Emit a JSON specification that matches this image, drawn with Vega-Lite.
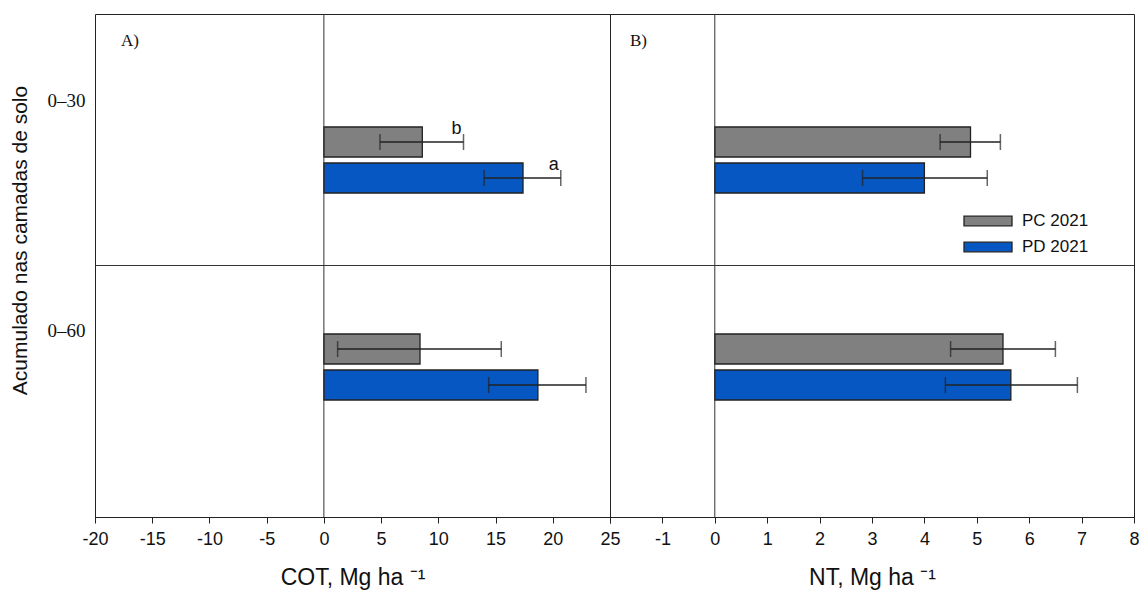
{
  "$schema": "https://vega.github.io/schema/vega-lite/v6.json",
  "autosize": {"type": "pad"},
  "padding": {"left": 8, "top": 13, "right": 0, "bottom": 0},
  "background": "white",
  "spacing": 0,
  "bounds": "flush",
  "config": {
    "view": {"stroke": "#222222", "strokeWidth": 1},
    "axis": {
      "labelFont": "Arial",
      "labelColor": "#111111",
      "titleFont": "Arial",
      "titleColor": "#111111",
      "titleFontWeight": "normal",
      "domainColor": "#222222",
      "tickColor": "#222222",
      "grid": false
    },
    "title": {"font": "Liberation Serif", "fontSize": 17, "fontWeight": "normal", "color": "#111111"}
  },
  "datasets": {
    "cot": [
      {"camada": "0–30", "sistema": "PC 2021", "media": 8.6, "lo": 4.9, "hi": 12.2, "letra": "b"},
      {"camada": "0–30", "sistema": "PD 2021", "media": 17.4, "lo": 14.0, "hi": 20.7, "letra": "a"},
      {"camada": "0–60", "sistema": "PC 2021", "media": 8.4, "lo": 1.2, "hi": 15.5, "letra": ""},
      {"camada": "0–60", "sistema": "PD 2021", "media": 18.7, "lo": 14.4, "hi": 22.9, "letra": ""}
    ],
    "nt": [
      {"camada": "0–30", "sistema": "PC 2021", "media": 4.88, "lo": 4.3, "hi": 5.45, "letra": ""},
      {"camada": "0–30", "sistema": "PD 2021", "media": 4.0, "lo": 2.82, "hi": 5.2, "letra": ""},
      {"camada": "0–60", "sistema": "PC 2021", "media": 5.5, "lo": 4.5, "hi": 6.5, "letra": ""},
      {"camada": "0–60", "sistema": "PD 2021", "media": 5.65, "lo": 4.4, "hi": 6.92, "letra": ""}
    ]
  },
  "resolve": {"legend": {"color": "independent"}},
  "hconcat": [
    {
      "width": 515,
      "height": 503,
      "title": {"text": "A)", "anchor": "start", "frame": "group", "dx": 26, "offset": -36, "baseline": "top"},
      "data": {"name": "cot"},
      "layer": [
        {
          "encoding": {
            "y": {
              "field": "camada", "type": "nominal",
              "scale": {"domain": ["0–30", "0–60"], "paddingInner": 0, "paddingOuter": 0.215},
              "axis": {
                "title": "Acumulado nas camadas de solo",
                "titleFontSize": 21,
                "titlePadding": 17,
                "titleY": 226,
                "labelFont": "Liberation Serif",
                "labelFontSize": 19,
                "labelAngle": 0,
                "labelPadding": 10,
                "labelOffset": {"condition": {"test": "datum.value === '0–30'", "value": -61}, "value": -38},
                "ticks": false,
                "domain": false
              }
            },
            "yOffset": {
              "field": "sistema", "type": "nominal",
              "scale": {"domain": ["PC 2021", "PD 2021"], "range": [68.5, 134.5], "paddingInner": 0.1667, "paddingOuter": 0}
            }
          },
          "layer": [
            {
              "mark": {"type": "bar", "stroke": "#222222", "strokeWidth": 1.3},
              "encoding": {
                "x": {
                  "field": "media", "type": "quantitative",
                  "scale": {"domain": [-20, 25], "nice": false, "zero": false},
                  "axis": {
                    "title": "COT, Mg ha  ⁻¹",
                    "titleFontSize": 23,
                    "titlePadding": 18,
                    "values": [-20, -15, -10, -5, 0, 5, 10, 15, 20, 25],
                    "labelExpr": "replace(datum.label, '−', '-')",
                    "labelFontSize": 18,
                    "labelPadding": 7,
                    "labelFlush": false,
                    "tickSize": 6
                  }
                },
                "x2": {"datum": 0},
                "color": {
                  "field": "sistema", "type": "nominal",
                  "scale": {"domain": ["PC 2021", "PD 2021"], "range": ["#808080", "#0657C1"]},
                  "legend": null
                }
              }
            },
            {
              "mark": {"type": "rule", "color": "#222222", "strokeWidth": 1.3},
              "encoding": {"x": {"field": "lo", "type": "quantitative"}, "x2": {"field": "hi"}}
            },
            {
              "mark": {"type": "tick", "color": "#222222", "thickness": 1.5, "size": 16},
              "encoding": {"x": {"field": "lo", "type": "quantitative"}}
            },
            {
              "mark": {"type": "tick", "color": "#222222", "thickness": 1.5, "size": 16},
              "encoding": {"x": {"field": "hi", "type": "quantitative"}}
            },
            {
              "transform": [{"filter": "datum.letra !== ''"}],
              "mark": {"type": "text", "font": "Arial", "fontSize": 18, "color": "#111111", "dx": -7, "dy": -13},
              "encoding": {"x": {"field": "hi", "type": "quantitative"}, "text": {"field": "letra"}}
            }
          ]
        },
        {
          "data": {"values": [{}]},
          "mark": {"type": "rule", "color": "#333333", "strokeWidth": 1},
          "encoding": {"x": {"datum": 0}}
        },
        {
          "data": {"values": [{}]},
          "mark": {"type": "rule", "color": "#333333", "strokeWidth": 1},
          "encoding": {"y": {"datum": "0–60", "bandPosition": 0}}
        }
      ]
    },
    {
      "width": 524,
      "height": 503,
      "title": {"text": "B)", "anchor": "start", "frame": "group", "dx": 20, "offset": -36, "baseline": "top"},
      "data": {"name": "nt"},
      "layer": [
        {
          "encoding": {
            "y": {
              "field": "camada", "type": "nominal",
              "scale": {"domain": ["0–30", "0–60"], "paddingInner": 0, "paddingOuter": 0.215},
              "axis": null
            },
            "yOffset": {
              "field": "sistema", "type": "nominal",
              "scale": {"domain": ["PC 2021", "PD 2021"], "range": [68.5, 134.5], "paddingInner": 0.1667, "paddingOuter": 0}
            }
          },
          "layer": [
            {
              "mark": {"type": "bar", "stroke": "#222222", "strokeWidth": 1.3},
              "encoding": {
                "x": {
                  "field": "media", "type": "quantitative",
                  "scale": {"domain": [-2, 8], "nice": false, "zero": false},
                  "axis": {
                    "title": "NT, Mg ha  ⁻¹",
                    "titleFontSize": 23,
                    "titlePadding": 18,
                    "values": [-2, -1, 0, 1, 2, 3, 4, 5, 6, 7, 8],
                    "labelExpr": "datum.value === -2 ? '' : replace(datum.label, '−', '-')",
                    "labelFontSize": 18,
                    "labelPadding": 7,
                    "labelFlush": false,
                    "tickSize": 6
                  }
                },
                "x2": {"datum": 0},
                "color": {
                  "field": "sistema", "type": "nominal",
                  "scale": {"domain": ["PC 2021", "PD 2021"], "range": ["#808080", "#0657C1"]},
                  "legend": {
                    "title": null,
                    "orient": "none",
                    "legendX": 367,
                    "legendY": 196,
                    "symbolType": "M-2.4,-0.48H2.4V0.48H-2.4Z",
                    "symbolSize": 400,
                    "symbolStrokeColor": "#222222",
                    "symbolStrokeWidth": 1.3,
                    "symbolOpacity": 1,
                    "labelFont": "Arial",
                    "labelFontSize": 17,
                    "labelColor": "#111111",
                    "labelOffset": 23,
                    "rowPadding": 7
                  }
                }
              }
            },
            {
              "mark": {"type": "rule", "color": "#222222", "strokeWidth": 1.3},
              "encoding": {"x": {"field": "lo", "type": "quantitative"}, "x2": {"field": "hi"}}
            },
            {
              "mark": {"type": "tick", "color": "#222222", "thickness": 1.5, "size": 16},
              "encoding": {"x": {"field": "lo", "type": "quantitative"}}
            },
            {
              "mark": {"type": "tick", "color": "#222222", "thickness": 1.5, "size": 16},
              "encoding": {"x": {"field": "hi", "type": "quantitative"}}
            }
          ]
        },
        {
          "data": {"values": [{}]},
          "mark": {"type": "rule", "color": "#333333", "strokeWidth": 1},
          "encoding": {"x": {"datum": 0}}
        },
        {
          "data": {"values": [{}]},
          "mark": {"type": "rule", "color": "#333333", "strokeWidth": 1},
          "encoding": {"y": {"datum": "0–60", "bandPosition": 0}}
        }
      ]
    }
  ]
}
